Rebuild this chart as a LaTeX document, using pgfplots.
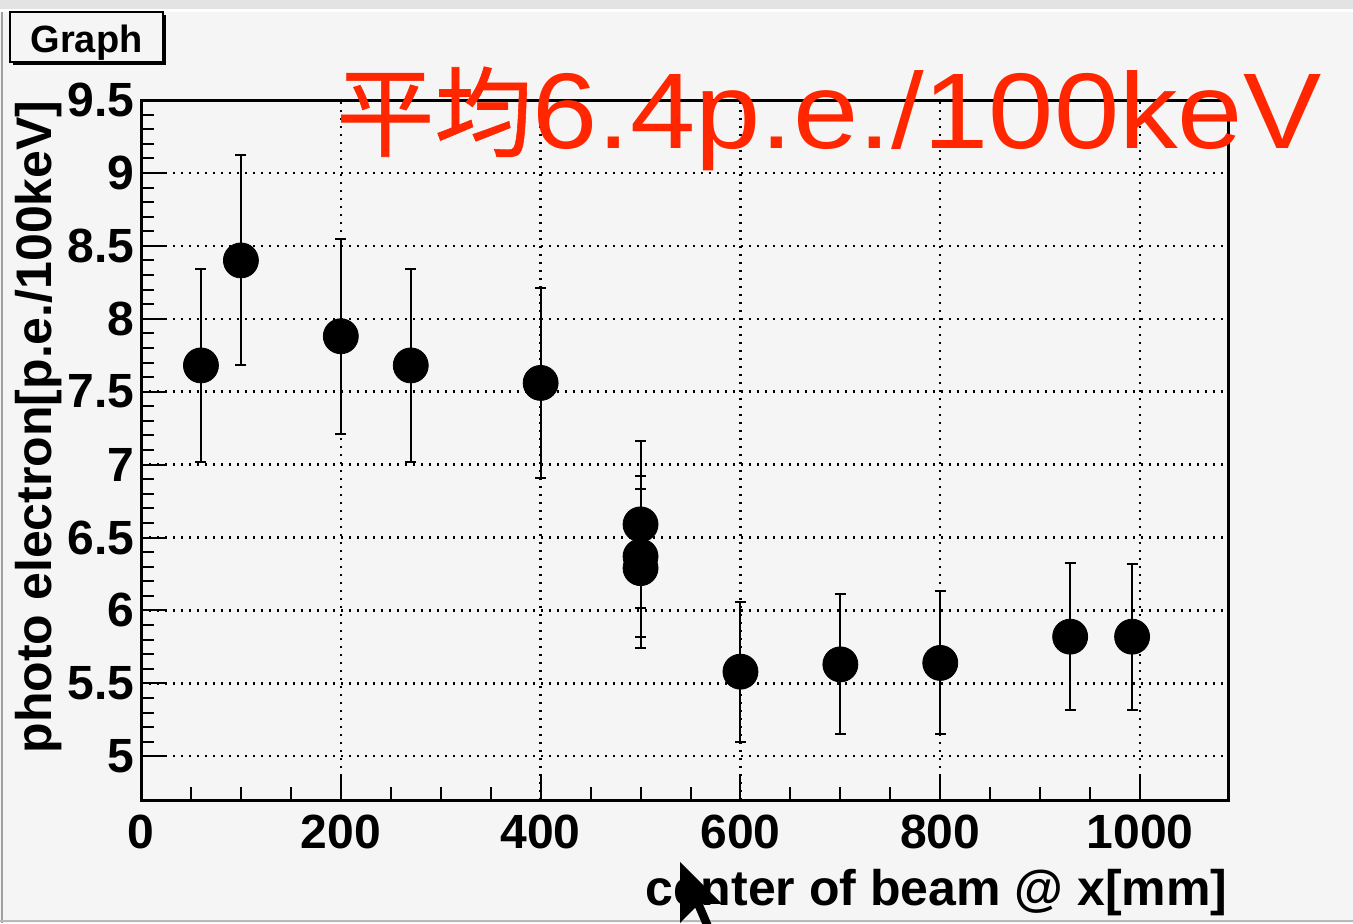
\documentclass[border=0pt]{standalone}
\usepackage{fontspec}
\setmainfont{Liberation Sans}
\newfontfamily\cjk[FakeBold=0.6]{Noto Sans CJK JP}
\newfontfamily\redfont[FakeStretch=1.09]{Liberation Sans}
\usepackage{pgfplots}
\usepackage{pgfplotstable}
\pgfplotsset{compat=1.18}
\definecolor{bg}{RGB}{245,245,245}
\definecolor{redtxt}{RGB}{255,38,0}

\pgfplotstableread{
x    y     e
60   7.68  0.66
100  8.40  0.72
200  7.88  0.67
270  7.68  0.66
400  7.56  0.65
500  6.59  0.57
500  6.37  0.55
500  6.29  0.545
600  5.58  0.48
700  5.63  0.48
800  5.64  0.49
930  5.82  0.505
992  5.82  0.50
}\datatable

\begin{document}
\begin{tikzpicture}
\path[use as bounding box] (0pt,0pt) rectangle (676.5pt,461.5pt);
\fill[bg] (0pt,0pt) rectangle (676.5pt,461.5pt);
\fill[gray!22] (0pt,457pt) rectangle (676.5pt,461.5pt);
\fill[white] (0pt,455.5pt) rectangle (676.5pt,457pt);
\fill[gray!75] (0.4pt,0pt) rectangle (1.4pt,455.5pt);
\fill[gray!55] (0pt,0.3pt) rectangle (676.5pt,1.3pt);

\begin{axis}[
  at={(70.5pt,61.5pt)}, anchor=south west,
  scale only axis, width=543.5pt, height=350pt,
  xmin=0, xmax=1088, ymin=4.7, ymax=9.5,
  axis line style={line width=1.5pt},
  tick align=inside, xtick pos=left, ytick pos=left,
  xtick={0,200,400,600,800,1000},
  ytick={5,5.5,6,6.5,7,7.5,8,8.5,9,9.5},
  minor x tick num=3, minor y tick num=4,
  major tick length=13pt, minor tick length=6.5pt,
  every tick/.style={black, line width=1pt},
  grid=major,
  major grid style={black, line width=1.2pt, dash pattern=on 0.9pt off 3.1pt},
  tick label style={font=\bfseries\fontsize{24}{24}\selectfont},
  /pgf/number format/assume math mode=true,
  /pgf/number format/1000 sep={},
  xticklabel style={inner sep=0pt, yshift=-7.5pt},
  yticklabel style={inner sep=0pt, xshift=-3pt},
  xlabel={center of beam @ x[mm]},
  ylabel={photo electron[p.e./100keV]},
  label style={font=\bfseries\fontsize{25}{25}\selectfont},
  xlabel style={at={(axis description cs:1,-0.15)}, anchor=base east, inner sep=0pt},
  ylabel style={at={(axis description cs:-0.0828,1)}, anchor=base east, inner sep=0pt},
]
\addplot[only marks, mark=*, mark size=8.75pt, black,
  error bars/.cd, y dir=both, y explicit,
  error bar style={line width=1pt, black},
  error mark options={rotate=90, mark size=2.75pt, line width=1pt, black}]
  table[x=x, y=y, y error=e] {\datatable};
\end{axis}

% title box
\fill[black] (6.5pt,429pt) rectangle (83pt,454pt);
\filldraw[fill=bg, draw=black, line width=1pt] (5pt,430.5pt) rectangle (81.5pt,455.5pt);
\node[anchor=base, inner sep=0pt] at (43.25pt,435pt) {\bfseries\fontsize{19}{19}\selectfont Graph};

% red annotation
\node[anchor=base west, inner sep=0pt, text=redtxt] at (168pt,387pt)
  {{\cjk\fontsize{49pt}{49pt}\selectfont 平均}{\redfont\fontsize{53.8pt}{54pt}\selectfont 6.4p.e./100keV}};

% mouse cursor
\fill[black] (340pt,30.5pt) -- (340pt,0pt) -- (347.6pt,7.7pt) -- (353.3pt,-5.6pt) -- (357.1pt,-3.7pt) -- (351.4pt,9.6pt) -- (361pt,9.6pt) -- cycle;
\end{tikzpicture}
\end{document}
